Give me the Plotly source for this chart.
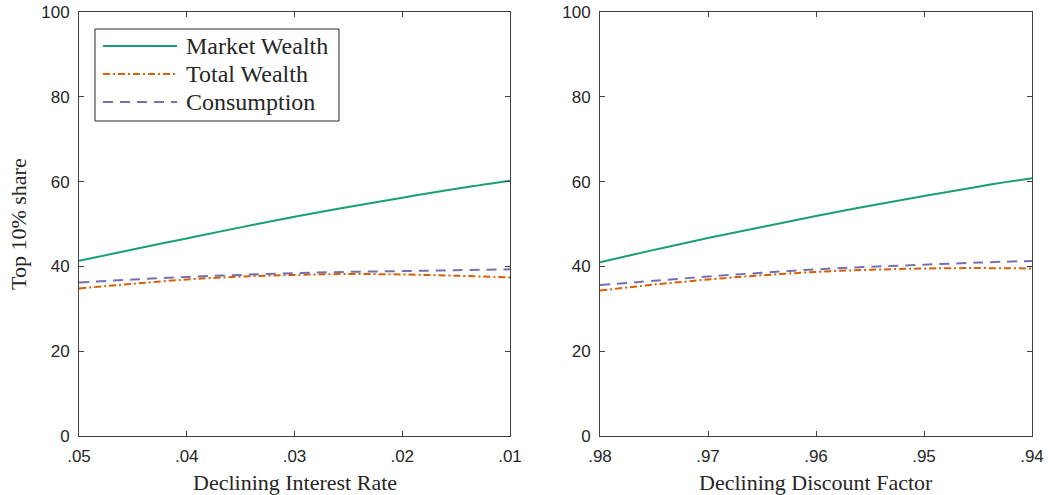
import plotly.graph_objects as go
from plotly.subplots import make_subplots

# Left panel: declining interest rate
r_vals = [0.05, 0.045, 0.04, 0.035, 0.03, 0.025, 0.02, 0.015, 0.01]
r_market = [41.3, 44.0, 46.6, 49.2, 51.7, 54.0, 56.2, 58.3, 60.2]
r_total = [34.8, 35.9, 36.9, 37.6, 38.0, 38.2, 38.1, 37.8, 37.4]
r_cons = [36.2, 36.9, 37.5, 38.0, 38.4, 38.7, 38.9, 39.1, 39.3]

# Right panel: declining discount factor
b_vals = [0.98, 0.975, 0.97, 0.965, 0.96, 0.955, 0.95, 0.945, 0.94]
b_market = [41.0, 43.9, 46.7, 49.3, 51.9, 54.3, 56.6, 58.8, 60.8]
b_total = [34.3, 35.7, 36.9, 37.9, 38.7, 39.2, 39.5, 39.6, 39.5]
b_cons = [35.6, 36.6, 37.6, 38.5, 39.3, 39.9, 40.4, 40.9, 41.3]

x_ticks_r = [0.05, 0.04, 0.03, 0.02, 0.01]
x_labels_r = [".05", ".04", ".03", ".02", ".01"]
x_ticks_b = [0.98, 0.97, 0.96, 0.95, 0.94]
x_labels_b = [".98", ".97", ".96", ".95", ".94"]
y_ticks = [0, 20, 40, 60, 80, 100]

series_names = ["Market Wealth", "Total Wealth", "Consumption"]
x_title_left = "Declining Interest Rate"
x_title_right = "Declining Discount Factor"
y_title = "Top 10% share"

GREEN = "#1b9e77"
ORANGE = "#d95f02"
PURPLE = "#7570b3"
COLORS = [GREEN, ORANGE, PURPLE]
DASHES = ["solid", "7px,3px,2px,3px", "10px,7px"]
SERIF = "Liberation Serif, Times New Roman, serif"
SANS = "Liberation Sans, Arial, sans-serif"
AX = "#404040"
TXT = "#262626"
W, H = 1048, 495


def px(x):
    return x / W


def py(y):
    return 1 - y / H


fig = make_subplots(rows=1, cols=2)

left = [r_market, r_total, r_cons]
right = [b_market, b_total, b_cons]
for name, color, dash, yl, yr in zip(series_names, COLORS, DASHES, left, right):
    fig.add_trace(go.Scatter(x=r_vals, y=yl, mode="lines", name=name, showlegend=False,
                             line=dict(color=color, width=2, dash=dash, shape="spline")),
                  row=1, col=1)
    fig.add_trace(go.Scatter(x=b_vals, y=yr, mode="lines", name=name, showlegend=False,
                             line=dict(color=color, width=2, dash=dash, shape="spline")),
                  row=1, col=2)

axis_common = dict(showline=True, linecolor=AX, linewidth=1, mirror="ticks",
                   ticks="inside", ticklen=5, tickcolor=AX, showgrid=False, zeroline=False,
                   automargin=False,
                   tickfont=dict(family=SANS, size=17, color=TXT))

fig.update_xaxes(**axis_common, ticklabelstandoff=5)
fig.update_yaxes(**axis_common, ticklabelstandoff=5)

fig.update_xaxes(range=[0.05, 0.01], tickvals=x_ticks_r, ticktext=x_labels_r,
                 domain=[px(79), px(510)], row=1, col=1)
fig.update_xaxes(range=[0.98, 0.94], tickvals=x_ticks_b, ticktext=x_labels_b,
                 domain=[px(600), px(1032)], row=1, col=2)
fig.update_yaxes(range=[0, 100], tickvals=y_ticks, domain=[py(436), py(12)], row=1, col=1)
fig.update_yaxes(range=[0, 100], tickvals=y_ticks, domain=[py(436), py(12)], row=1, col=2)

# Axis titles
fig.add_annotation(text=x_title_left, x=px(294.5), y=py(482), xref="paper", yref="paper",
                   xanchor="center", yanchor="middle", showarrow=False,
                   font=dict(family=SERIF, size=22, color=TXT))
fig.add_annotation(text=x_title_right, x=px(816), y=py(482), xref="paper", yref="paper",
                   xanchor="center", yanchor="middle", showarrow=False,
                   font=dict(family=SERIF, size=22, color=TXT))
fig.add_annotation(text=y_title, x=px(18), y=py(224), xref="paper", yref="paper",
                   xanchor="center", yanchor="middle", showarrow=False, textangle=-90,
                   font=dict(family=SERIF, size=22, color=TXT))

# Legend box (drawn manually to match the long line samples)
fig.add_shape(type="rect", xref="paper", yref="paper",
              x0=px(95), x1=px(339), y0=py(121), y1=py(29),
              line=dict(color=TXT, width=1), fillcolor="white", layer="above")
row_y = [46, 74, 102]
for name, color, dash, ry in zip(series_names, COLORS, DASHES, row_y):
    fig.add_shape(type="line", xref="paper", yref="paper",
                  x0=px(103), x1=px(177), y0=py(ry), y1=py(ry),
                  line=dict(color=color, width=2, dash=dash), layer="above")
    fig.add_annotation(text=name, x=px(184), y=py(ry), xref="paper", yref="paper",
                       xanchor="left", yanchor="middle", showarrow=False,
                       font=dict(family=SERIF, size=24, color=TXT))

fig.update_layout(
    width=W, height=H,
    margin=dict(l=0, r=0, t=0, b=0),
    plot_bgcolor="white", paper_bgcolor="white",
    showlegend=False,
)

fig.write_html("out.html")
